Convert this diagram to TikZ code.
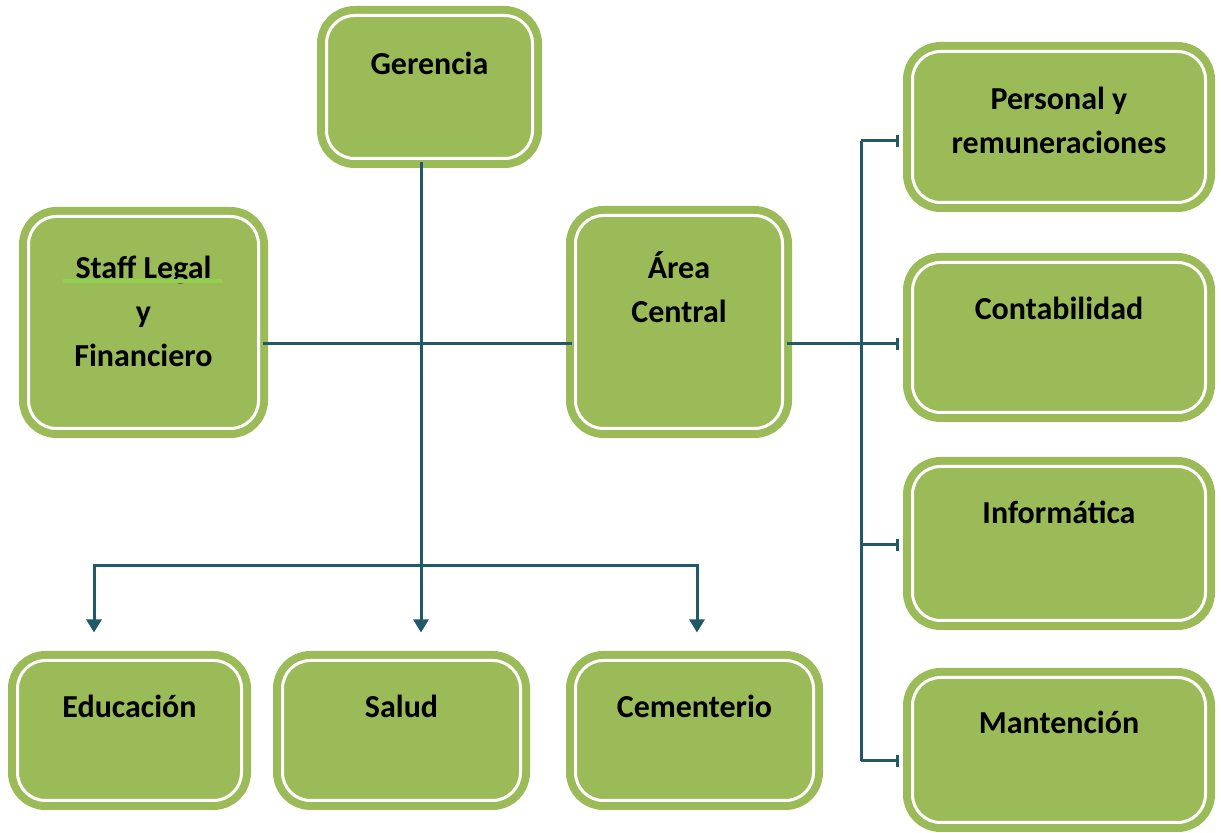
\documentclass[tikz,border=0pt]{standalone}
\usepackage{fontspec}
\setmainfont{Carlito}
\usetikzlibrary{arrows.meta}
\definecolor{boxgreen}{RGB}{155,187,89}
\definecolor{linkteal}{RGB}{33,89,104}
\definecolor{ulgreen}{RGB}{146,208,80}
\tikzset{
	unit/.style={draw=boxgreen, fill=boxgreen, double=white, double distance=1.5pt, line width=4pt, rounded corners=14pt, inner sep=0pt},
	tag/.style={font=\bfseries\fontsize{16}{22}\selectfont, align=center, text=black},
	link/.style={draw=linkteal, line width=1.5pt},
	drop/.style={-{Triangle[width=7.5pt,length=6.5pt]}},
}

\begin{document}
\begin{tikzpicture}[x=0.5pt, y=-0.5pt]
		%%%%% START %%%%%
		\useasboundingbox (0,0) rectangle (1223,833);
		
		\node[unit, minimum width=103pt, minimum height=71.5pt] (ger) at (429.5, 87) {};
		\node[unit, minimum width=115pt, minimum height=106pt] (staff) at (143.5, 322.5) {};
		\node[unit, minimum width=103.5pt, minimum height=106.5pt] (area) at (679, 322) {};
		
		\node[unit, minimum width=146.5pt, minimum height=75.5pt] (pers) at (1059, 127) {};
		\node[unit, minimum width=146.5pt, minimum height=75pt] (cont) at (1059, 337.5) {};
		\node[unit, minimum width=146.5pt, minimum height=77pt] (info) at (1059, 543.5) {};
		\node[unit, minimum width=146.5pt, minimum height=72.5pt] (mant) at (1059, 750) {};
		
		\node[unit, minimum width=112pt, minimum height=70pt] (edu) at (129.5, 730.5) {};
		\node[unit, minimum width=119pt, minimum height=70pt] (sal) at (401.5, 730.5) {};
		\node[unit, minimum width=119pt, minimum height=70pt] (cem) at (694.5, 730.5) {};
		
		\node[tag] (gerT) at (429.5, 63) {Gerencia};
		\node[tag] (staffT) at (143.5, 311) {Staff Legal\\y\\Financiero};
		\draw[ulgreen, line width=2pt] (63, 281) -- (222, 281);
		\node[tag] (areaT) at (679, 287.5) {Área\\Central};
		\node[tag] (persT) at (1059, 120) {Personal y\\remuneraciones};
		\node[tag] (contT) at (1059, 308) {Contabilidad};
		\node[tag] (infoT) at (1059, 512) {Informática};
		\node[tag] (mantT) at (1059, 722) {Mantención};
		\node[tag] (eduT) at (129.5, 706) {Educación};
		\node[tag] (salT) at (401.5, 706) {Salud};
		\node[tag] (cemT) at (694.5, 706) {Cementerio};
		
		\coordinate (split) at (421, 566);
		\coordinate (forkL) at (94, 566);
		\coordinate (forkR) at (697, 566);
		\coordinate (bus) at (861, 344);
		
		\draw[link] (staff.east |- 0, 344) -- (area.west |- 0, 344);
		\draw[link, drop, shorten >=12pt] (split |- ger.south) -- (split |- sal.north);
		\draw[link, {Triangle[width=7.5pt,length=6.5pt]}-{Triangle[width=7.5pt,length=6.5pt]}, shorten <=12pt, shorten >=12pt] (forkL |- edu.north) -- (forkL) -- (forkR) -- (forkR |- cem.north);
		
		\draw[link] (bus -| area.east) -- (bus);
		\draw[link] (bus |- 0, 141) -- (bus |- 0, 761);
		\foreach \b/\y in {pers/141, cont/344, info/545, mant/761}
			\draw[link, -{Bar[width=6pt, line width=1.2pt]}, shorten >=5pt] (bus |- 0, \y) -- (\b.west |- 0, \y);
		
		%%%%% END %%%%%
\end{tikzpicture}
\end{document}
